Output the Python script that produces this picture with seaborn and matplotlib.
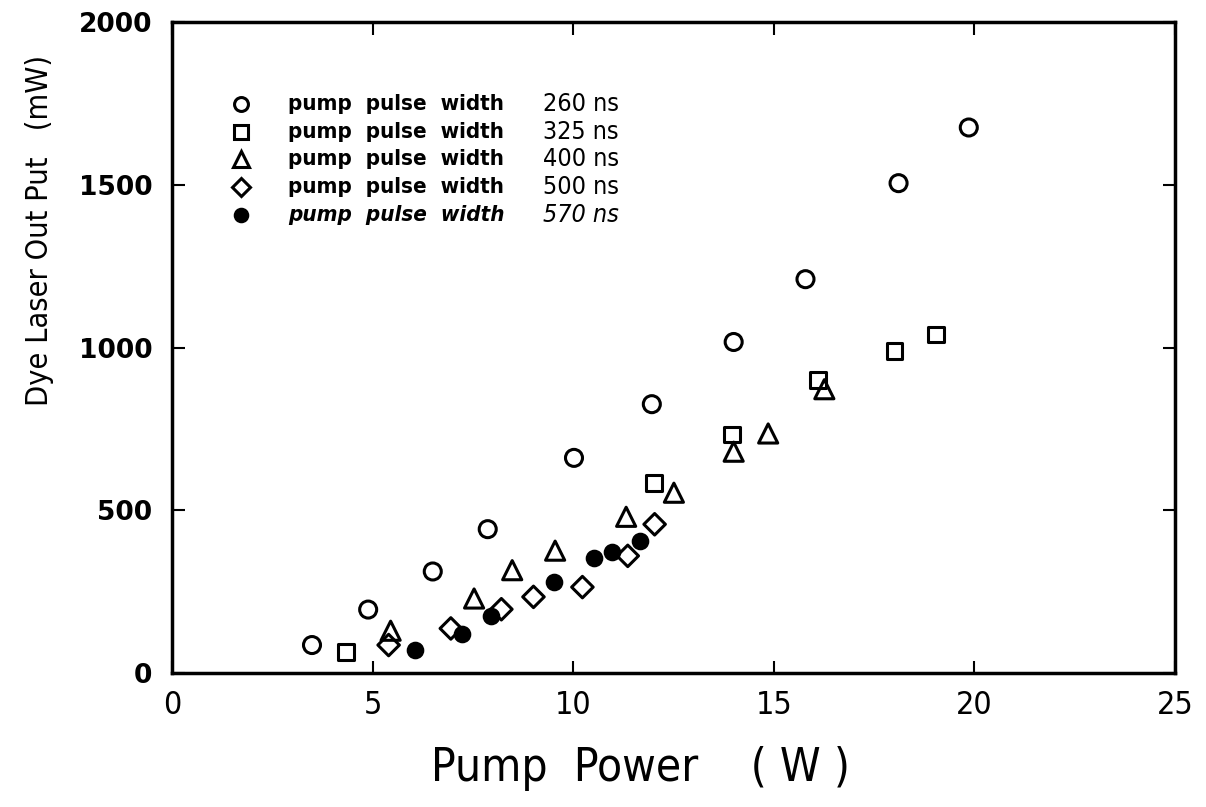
import matplotlib
matplotlib.use("Agg")
import matplotlib.pyplot as plt
import seaborn as sns
import pandas as pd

# pump power (W) and dye laser output (mW) per pump pulse width
x_260 = [3.49, 4.89, 6.50, 7.87, 10.02, 11.96, 14.0, 15.79, 18.11, 19.86]
y_260 = [86, 195, 312, 442, 661, 826, 1017, 1210, 1505, 1676]

x_325 = [4.33, 12.02, 13.95, 16.10, 18.01, 19.04]
y_325 = [64, 585, 733, 900, 989, 1040]

x_400 = [5.45, 7.53, 8.48, 9.55, 11.32, 12.51, 14.0, 14.86, 16.26]
y_400 = [130, 229, 316, 376, 480, 554, 680, 736, 872]

x_500 = [5.40, 6.95, 8.21, 9.01, 10.23, 11.36, 12.03]
y_500 = [86, 137, 196, 234, 264, 360, 457]

x_570 = [6.05, 7.24, 7.94, 9.51, 10.51, 10.96, 11.66]
y_570 = [71, 120, 175, 279, 354, 373, 406]

widths = ["260", "325", "400", "500", "570"]
markers = ["o", "s", "^", "D", "o"]
filled = [False, False, False, False, True]
sizes = [150, 130, 190, 120, 110]

series = [(x_260, y_260), (x_325, y_325), (x_400, y_400), (x_500, y_500), (x_570, y_570)]

sns.set_style("ticks")
plt.rcParams['font.family'] = ['DejaVu Sans']
plt.rcParams['font.stretch'] = 'condensed'
plt.rcParams['text.color'] = 'black'
plt.rcParams['axes.labelcolor'] = 'black'
plt.rcParams['xtick.color'] = 'black'
plt.rcParams['ytick.color'] = 'black'
plt.rcParams['axes.edgecolor'] = 'black'

fig = plt.figure(figsize=(12.06, 8.07), dpi=100)
ax = fig.add_axes([0.1426, 0.166, 0.8317, 0.8067])

for (xs, ys), w, m, f, s in zip(series, widths, markers, filled, sizes):
    df = pd.DataFrame({"power": xs, "output": ys})
    sns.scatterplot(
        data=df, x="power", y="output", ax=ax,
        marker=m, s=s,
        facecolor="black" if f else "none",
        edgecolor="black", linewidth=2.2,
        legend=False, zorder=3,
    )

ax.set_xlim(0, 25)
ax.set_ylim(0, 2000)
ax.set_xticks([0, 5, 10, 15, 20, 25])
ax.set_yticks([0, 500, 1000, 1500, 2000])
ax.set_yticklabels(["0", "500", "1000", "1500", "2000"], fontsize=19,
                   fontweight="bold", fontstretch="normal")
ax.set_xticklabels(["0", "5", "10", "15", "20", "25"], fontsize=23)
ax.tick_params(direction="in", length=9, width=1.5, top=True, right=True)
ax.tick_params(axis="x", pad=12)
ax.tick_params(axis="y", pad=14)
for sp in ax.spines.values():
    sp.set_linewidth(2.5)
    sp.set_visible(True)

ax.set_xlabel("Pump  Power    ( W )", fontsize=33)
ax.set_ylabel("Dye Laser Out Put   (mW)", fontsize=22)
ax.xaxis.set_label_coords(0.467, -0.112)
ax.yaxis.set_label_coords(-0.118, 0.68)

# hand-drawn style legend block
row_y = [0.874, 0.831, 0.790, 0.747, 0.704]
for i, (w, m, f) in enumerate(zip(widths, markers, filled)):
    ms = {"o": 10, "s": 9.5, "^": 11, "D": 9}[m]
    if f:
        ms = 9
    ax.plot([0.069], [row_y[i]], marker=m, ms=ms, mew=2.2, color="black",
            mfc="black" if f else "none", transform=ax.transAxes, ls="none")
    style = "italic" if f else "normal"
    ax.text(0.116, row_y[i], "pump  pulse  width", transform=ax.transAxes,
            fontsize=16, fontweight="bold", style=style, va="center", ha="left")
    ax.text(0.370, row_y[i], f"{w} ns", transform=ax.transAxes,
            fontsize=18, style=style, va="center", ha="left")

fig.savefig("out.png", dpi=100)
